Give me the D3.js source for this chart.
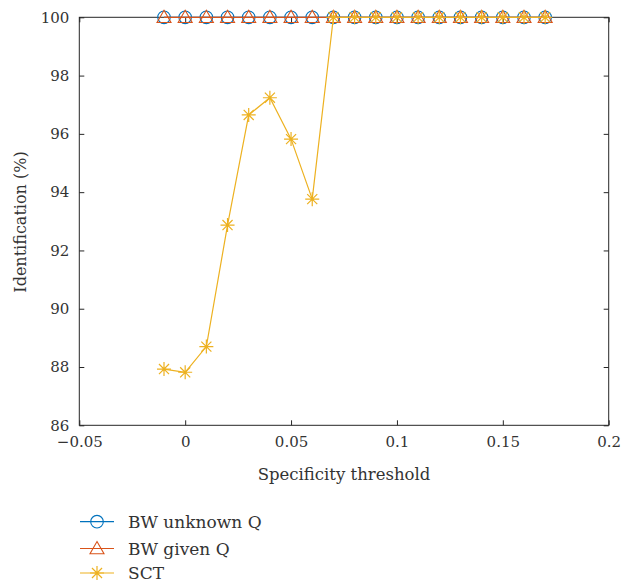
<!DOCTYPE html>
<html>
<head>
<meta charset="utf-8">
<script src="https://cdn.jsdelivr.net/npm/d3@7"></script>
<style>
  html, body { margin: 0; padding: 0; background: #fff; }
  svg { display: block; }
</style>
</head>
<body>
<script>
// Specificity thresholds and identification rates (%)
const thresholds = [-0.01, 0, 0.01, 0.02, 0.03, 0.04, 0.05, 0.06, 0.07, 0.08, 0.09, 0.10,
                    0.11, 0.12, 0.13, 0.14, 0.15, 0.16, 0.17];
const bwUnknownQ = [100, 100, 100, 100, 100, 100, 100, 100, 100, 100, 100, 100,
                    100, 100, 100, 100, 100, 100, 100];
const bwGivenQ   = [100, 100, 100, 100, 100, 100, 100, 100, 100, 100, 100, 100,
                    100, 100, 100, 100, 100, 100, 100];
const sct        = [87.93, 87.82, 88.7, 92.87, 96.65, 97.24, 95.82, 93.76, 100, 100, 100, 100,
                    100, 100, 100, 100, 100, 100, 100];
const xTicks = [-0.05, 0, 0.05, 0.1, 0.15, 0.2];
const xTickLabels = ["\u22120.05", "0", "0.05", "0.1", "0.15", "0.2"];
const yTicks = [86, 88, 90, 92, 94, 96, 98, 100];

const seriesNames = ["BW unknown Q", "BW given Q", "SCT"];
const seriesColors = ["#0072BD", "#D95319", "#EDB120"];
const seriesValues = [bwUnknownQ, bwGivenQ, sct];
const seriesMarkers = ["circle", "triangle", "star"];

const W = 621, H = 588;
const plotL = 79.3, plotR = 608.7, plotT = 17.3, plotB = 425.3;
const fontFamily = "'DejaVu Serif'";
const textColor = "#333";

const svg = d3.select("body").append("svg").attr("width", W).attr("height", H);

const x = d3.scaleLinear().domain([-0.05, 0.2]).range([plotL, plotR]);
const y = d3.scaleLinear().domain([86, 100]).range([plotB, plotT]);

const axisColor = "#262626";
const tickLen = 5;

function styleText(sel, size) {
  return sel.style("font-family", fontFamily).style("font-size", size + "px").style("fill", textColor);
}

// Box
svg.append("rect")
  .attr("x", plotL).attr("y", plotT)
  .attr("width", plotR - plotL).attr("height", plotB - plotT)
  .attr("fill", "none").attr("stroke", axisColor).attr("stroke-width", 1);

// Axes with inward ticks
const fmtX = (d, i) => xTickLabels[i];
const gx = svg.append("g").attr("transform", `translate(0,${plotB})`)
  .call(d3.axisBottom(x).tickValues(xTicks).tickFormat(fmtX).tickSizeInner(-tickLen).tickSizeOuter(0).tickPadding(11));
const gxTop = svg.append("g").attr("transform", `translate(0,${plotT})`)
  .call(d3.axisTop(x).tickValues(xTicks).tickFormat("").tickSizeInner(-tickLen).tickSizeOuter(0));
const gy = svg.append("g").attr("transform", `translate(${plotL},0)`)
  .call(d3.axisLeft(y).tickValues(yTicks).tickSizeInner(-tickLen).tickSizeOuter(0).tickPadding(10));
const gyRight = svg.append("g").attr("transform", `translate(${plotR},0)`)
  .call(d3.axisRight(y).tickValues(yTicks).tickFormat("").tickSizeInner(-tickLen).tickSizeOuter(0));

[gx, gxTop, gy, gyRight].forEach(g => {
  g.select(".domain").remove();
  g.selectAll(".tick line").attr("stroke", axisColor);
  styleText(g.selectAll(".tick text"), 15);
});

// Axis titles
styleText(svg.append("text")
  .attr("x", 344).attr("y", 480)
  .attr("text-anchor", "middle")
  .text("Specificity threshold"), 16.5);
styleText(svg.append("text")
  .attr("transform", "translate(26,222) rotate(-90)")
  .attr("text-anchor", "middle")
  .text("Identification (%)"), 16);

// Marker symbols
function drawMarker(g, type, cx, cy, color) {
  if (type === "circle") {
    g.append("circle").attr("cx", cx).attr("cy", cy).attr("r", 6.3)
      .attr("fill", "none").attr("stroke", color).attr("stroke-width", 1.1);
  } else if (type === "triangle") {
    const s = 7;
    g.append("path")
      .attr("d", `M${cx},${cy - s} L${cx + s},${cy + s * 0.75} L${cx - s},${cy + s * 0.75} Z`)
      .attr("fill", "none").attr("stroke", color).attr("stroke-width", 1.1);
  } else {
    const r = 7;
    let d = `M${cx - r},${cy} L${cx + r},${cy} M${cx},${cy - r} L${cx},${cy + r}`;
    const q = r * 0.72;
    d += ` M${cx - q},${cy - q} L${cx + q},${cy + q} M${cx - q},${cy + q} L${cx + q},${cy - q}`;
    g.append("path").attr("d", d).attr("fill", "none").attr("stroke", color).attr("stroke-width", 1.2);
  }
}

const line = d3.line().x(d => x(d[0])).y(d => y(d[1]));

seriesValues.forEach((vals, si) => {
  const pts = thresholds.map((t, i) => [t, vals[i]]);
  const g = svg.append("g");
  g.append("path").attr("d", line(pts))
    .attr("fill", "none").attr("stroke", seriesColors[si]).attr("stroke-width", 1.2);
  pts.forEach(p => drawMarker(g, seriesMarkers[si], x(p[0]), y(p[1]), seriesColors[si]));
});

// Legend
const legendRows = [521.7, 548.5, 573];
seriesNames.forEach((name, si) => {
  const ly = legendRows[si];
  const g = svg.append("g");
  g.append("line").attr("x1", 80).attr("x2", 114).attr("y1", ly).attr("y2", ly)
    .attr("stroke", seriesColors[si]).attr("stroke-width", 1.2);
  drawMarker(g, seriesMarkers[si], 97, ly, seriesColors[si]);
  styleText(g.append("text").attr("x", 128).attr("y", ly + 6).text(name), 17);
});
</script>
</body>
</html>
